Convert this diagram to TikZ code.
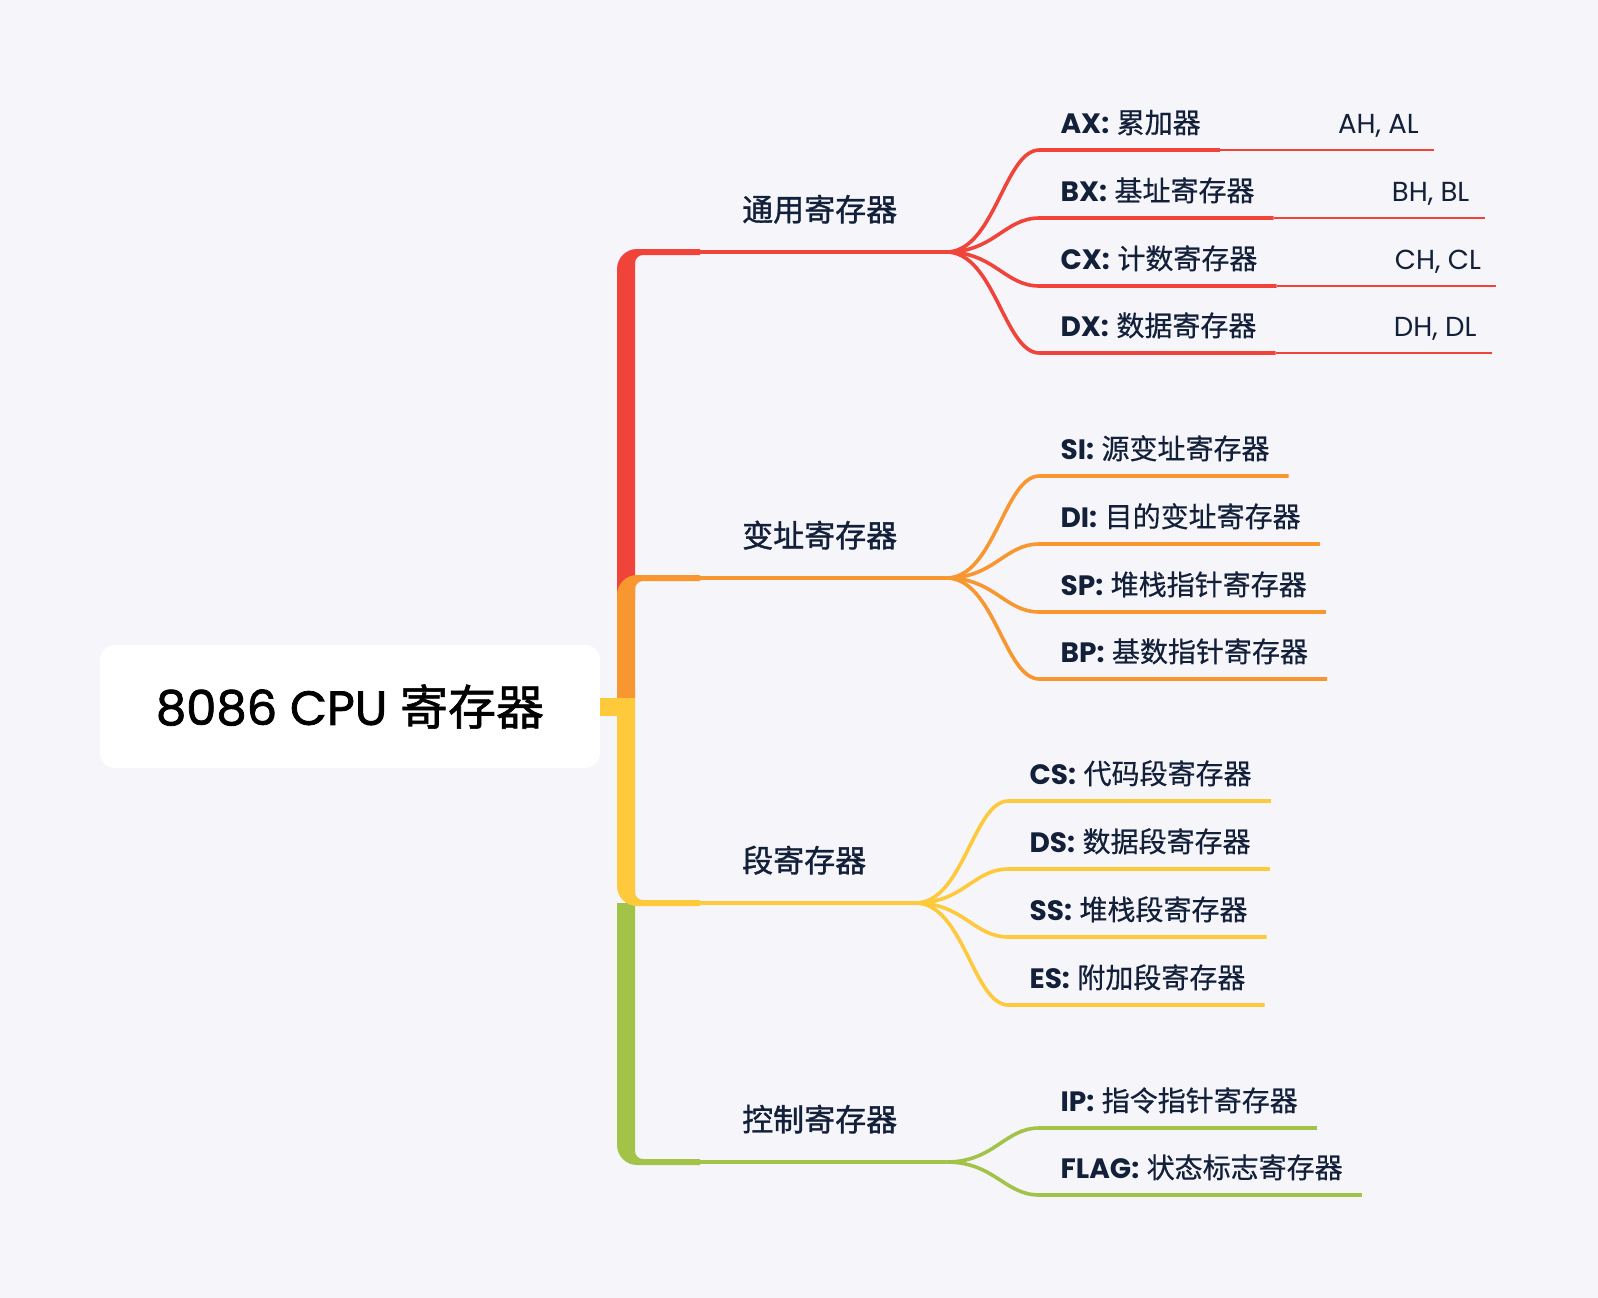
\documentclass[tikz,border=0pt]{standalone}
\usepackage{fontspec}
\setmainfont{Poppins}
\newfontfamily\latm{Poppins}[FakeBold=1.6]
\newfontfamily\cjk{Noto Sans CJK SC}[FakeBold=0.5]
\newfontfamily\cjkm{Noto Sans CJK SC}[FakeBold=1.2]
\usetikzlibrary{positioning,calc}
\definecolor{bg}{HTML}{F5F5FA}
\definecolor{ink}{HTML}{13203A}
\definecolor{cred}{HTML}{F0433A}
\definecolor{corg}{HTML}{F8962F}
\definecolor{cyel}{HTML}{FEC93B}
\definecolor{cgrn}{HTML}{A3C348}
\newcommand\regname[2]{{\bfseries #1:} {\cjk #2}}

\begin{document}
\begin{tikzpicture}[x=1pt,y=-1pt,
    rootbox/.style={fill=white, rounded corners=15pt, minimum width=500pt, minimum height=123pt, inner sep=0pt},
    branch/.style={inner sep=0pt, text=ink, font=\cjkm\fontsize{31}{36}\selectfont},
    leaf/.style={inner sep=0pt, text=ink, font=\fontsize{28}{34}\selectfont},
    half/.style={inner sep=0pt, text=ink, font=\fontsize{27.5}{32}\selectfont},
    wire/.style={line width=3.6pt},
    hair/.style={line width=2pt},
    trunk/.style={line width=4pt}]
    \fill[bg] (0,0) rectangle (1598,1298);
    \useasboundingbox (0,0) rectangle (1598,1298);

    % root
    \node[rootbox] (root) at (350,706.5) {\latm\fontsize{48}{58}\selectfont 8086 CPU {\cjkm 寄存器}};

    % the bar, one piece per branch
    \fill[cred] (617,600) -- (617,269) .. controls (617,258) and (626,249) .. (637,249) -- (700,249) -- (700,255) -- (643,255) .. controls (638.6,255) and (635,258.6) .. (635,263) -- (635,600) -- cycle;
    \fill[corg] (617,698) -- (617,595) .. controls (617,584) and (626,575) .. (637,575) -- (700,575) -- (700,581) -- (643,581) .. controls (638.6,581) and (635,584.6) .. (635,589) -- (635,698) -- cycle;
    \fill[cgrn] (617,903) -- (617,1145) .. controls (617,1156) and (626,1165) .. (637,1165) -- (700,1165) -- (700,1159) -- (643,1159) .. controls (638.6,1159) and (635,1155.4) .. (635,1151) -- (635,903) -- cycle;
    \fill[cyel] (617,698) -- (617,886) .. controls (617,897) and (626,906) .. (637,906) -- (700,906) -- (700,900) -- (643,900) .. controls (638.6,900) and (635,896.4) .. (635,892) -- (635,698) -- cycle;
    \draw[cyel, line width=18pt] (root.east) -- (617,706.5);

    % branches
    \coordinate (genb) at (700,252);
    \node[branch, anchor=base west] (gen) at (742,221) {通用寄存器};
    \coordinate (genf) at ($(gen.east |- genb)+(49,0)$);
    \draw[trunk,cred] (genb) -- (genf);

    \coordinate (idxb) at (700,578);
    \node[branch, anchor=base west] (idx) at (742,547) {变址寄存器};
    \coordinate (idxf) at ($(idx.east |- idxb)+(49,0)$);
    \draw[trunk,corg] (idxb) -- (idxf);

    \coordinate (segb) at (700,903);
    \node[branch, anchor=base west] (seg) at (742,872) {段寄存器};
    \coordinate (segf) at ($(seg.east |- segb)+(49,0)$);
    \draw[trunk,cyel] (segb) -- (segf);

    \coordinate (ctlb) at (700,1162);
    \node[branch, anchor=base west] (ctl) at (742,1131) {控制寄存器};
    \coordinate (ctlf) at ($(ctl.east |- ctlb)+(49,0)$);
    \draw[trunk,cgrn] (ctlb) -- (ctlf);

    % general purpose registers, with their halves
    \foreach \n/\rg/\lbl/\hl/\off in {ax/AX/累加器/{AH, AL}/-102, bx/BX/基址寄存器/{BH, BL}/-34, cx/CX/计数寄存器/{CH, CL}/34, dx/DX/数据寄存器/{DH, DL}/101}{
        \coordinate (\n-l) at ($(genf)+(93,\off)$);
        \node[leaf, anchor=base west] (\n) at ($(\n-l)+(21,-17)$) {\regname{\rg}{\lbl}};
        \coordinate (\n-r) at ($(\n.east |- \n-l)+(19,0)$);
        \node[half, anchor=base west] (\n-h) at ($(\n-r)+(118,-17)$) {\hl};
        \draw[wire,cred] (genf) .. controls +(48,0) and +(-35,0) .. (\n-l) -- (\n-r);
        \draw[hair,cred] (\n-r) -- ($(\n-h.east |- \n-l)+(15,0)$);
    }

    % index registers
    \foreach \n/\rg/\lbl/\off in {si/SI/源变址寄存器/-102, di/DI/目的变址寄存器/-34, sp/SP/堆栈指针寄存器/34, bp/BP/基数指针寄存器/101}{
        \coordinate (\n-l) at ($(idxf)+(93,\off)$);
        \node[leaf, anchor=base west] (\n) at ($(\n-l)+(21,-17)$) {\regname{\rg}{\lbl}};
        \draw[wire,corg] (idxf) .. controls +(48,0) and +(-35,0) .. (\n-l) -- ($(\n.east |- \n-l)+(19,0)$);
    }

    % segment registers
    \foreach \n/\rg/\lbl/\off in {cs/CS/代码段寄存器/-102, ds/DS/数据段寄存器/-34, ss/SS/堆栈段寄存器/34, es/ES/附加段寄存器/102}{
        \coordinate (\n-l) at ($(segf)+(93,\off)$);
        \node[leaf, anchor=base west] (\n) at ($(\n-l)+(21,-17)$) {\regname{\rg}{\lbl}};
        \draw[wire,cyel] (segf) .. controls +(48,0) and +(-35,0) .. (\n-l) -- ($(\n.east |- \n-l)+(19,0)$);
    }

    % control registers
    \foreach \n/\rg/\lbl/\off in {ip/IP/指令指针寄存器/-34, flag/FLAG/状态标志寄存器/33}{
        \coordinate (\n-l) at ($(ctlf)+(93,\off)$);
        \node[leaf, anchor=base west] (\n) at ($(\n-l)+(21,-17)$) {\regname{\rg}{\lbl}};
        \draw[wire,cgrn] (ctlf) .. controls +(48,0) and +(-35,0) .. (\n-l) -- ($(\n.east |- \n-l)+(19,0)$);
    }
\end{tikzpicture}
\end{document}
